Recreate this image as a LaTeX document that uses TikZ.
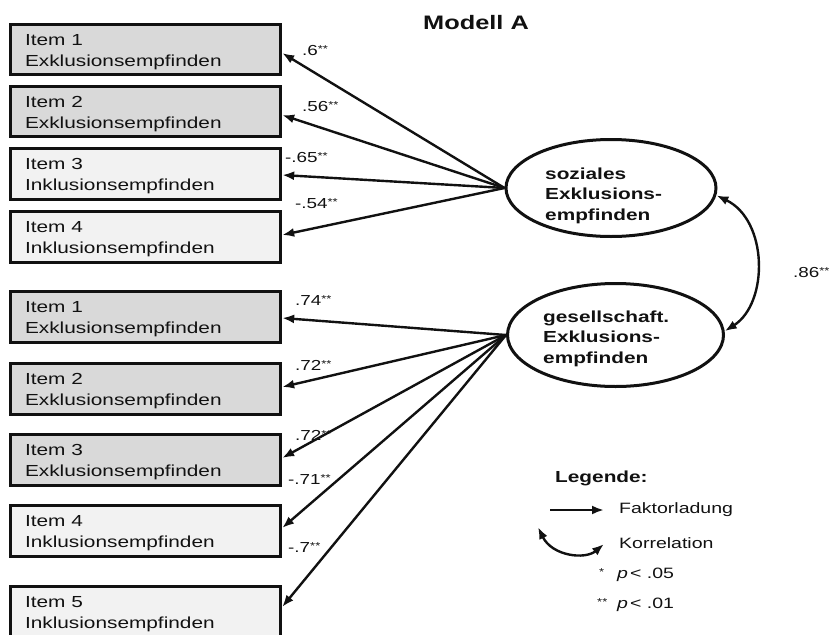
\documentclass[tikz,border=0pt]{standalone}
\usepackage{fontspec}
\setmainfont{Liberation Sans}[FakeStretch=1.3]
\usetikzlibrary{arrows.meta,shapes.geometric}

\definecolor{exkl}{HTML}{D9D9D9}
\definecolor{inkl}{HTML}{F2F2F2}
\definecolor{ink}{HTML}{111111}

% significance stars, set small and raised
\newcommand{\sigstars}[1]{\raisebox{3pt}{\fontsize{10}{10}\selectfont #1}}

\begin{document}
\begin{tikzpicture}[x=1pt,y=-1pt,
  itembox/.style={draw=ink, line width=2.8pt, minimum width=270.5pt, minimum height=50.5pt, inner sep=0pt},
  itemtext/.style={anchor=north west, align=left, inner sep=0pt, font=\fontsize{16}{21}\selectfont, text=ink},
  factor/.style={draw=ink, ellipse, line width=3pt, inner sep=0pt},
  factortext/.style={anchor=north west, align=left, inner sep=0pt, font=\fontsize{16}{20.5}\selectfont\bfseries, text=ink},
  load/.style={draw=ink, line width=2.4pt, -{Latex[length=12pt,width=9pt]}},
  corr/.style={draw=ink, line width=2.4pt, {Latex[length=12pt,width=9pt]}-{Latex[length=12pt,width=9pt]}},
  coef/.style={anchor=base west, inner sep=0pt, font=\fontsize{14.5}{17}\selectfont, text=ink},
  legtext/.style={anchor=base west, inner sep=0pt, font=\fontsize{15}{18}\selectfont, text=ink},
]
\useasboundingbox (0,0) rectangle (834,634);

% title
\node[anchor=base west, inner sep=0pt, font=\fontsize{19.5}{22}\selectfont\bfseries, text=ink] (title) at (423,30) {Modell A};

% indicator boxes, first factor
\node[itembox, fill=exkl] (s1) at (145.5,49.5) {};
\node[itembox, fill=exkl] (s2) at (145.5,111.5) {};
\node[itembox, fill=inkl] (s3) at (145.5,174) {};
\node[itembox, fill=inkl] (s4) at (145.5,237) {};
% indicator boxes, second factor
\node[itembox, fill=exkl] (g1) at (145.5,317) {};
\node[itembox, fill=exkl] (g2) at (145.5,389) {};
\node[itembox, fill=exkl] (g3) at (145.5,460) {};
\node[itembox, fill=inkl] (g4) at (145.5,531) {};
\node[itembox, fill=inkl] (g5) at (145.5,612) {};

\node[itemtext] (ts1) at ([shift={(16,11)}]s1.north west) {Item 1\\Exklusionsempfinden};
\node[itemtext] (ts2) at ([shift={(16,11)}]s2.north west) {Item 2\\Exklusionsempfinden};
\node[itemtext] (ts3) at ([shift={(16,11)}]s3.north west) {Item 3\\Inklusionsempfinden};
\node[itemtext] (ts4) at ([shift={(16,11)}]s4.north west) {Item 4\\Inklusionsempfinden};
\node[itemtext] (tg1) at ([shift={(16,11)}]g1.north west) {Item 1\\Exklusionsempfinden};
\node[itemtext] (tg2) at ([shift={(16,11)}]g2.north west) {Item 2\\Exklusionsempfinden};
\node[itemtext] (tg3) at ([shift={(16,11)}]g3.north west) {Item 3\\Exklusionsempfinden};
\node[itemtext] (tg4) at ([shift={(16,11)}]g4.north west) {Item 4\\Inklusionsempfinden};
\node[itemtext] (tg5) at ([shift={(16,11)}]g5.north west) {Item 5\\Inklusionsempfinden};

% latent factors
\node[factor, minimum width=210pt, minimum height=97pt] (es) at (611,188) {};
\node[factor, minimum width=216pt, minimum height=103pt] (eg) at (615.5,335) {};
\node[factortext] (tes) at (545,167.3) {soziales\\Exklusions-\\empfinden};
\node[factortext] (teg) at (543,310.3) {gesellschaft.\\Exklusions-\\empfinden};

% factor loadings
\draw[load] (es.west) -- ([shift={(0,3.5)}]s1.east);
\draw[load] (es.west) -- ([shift={(0,3.5)}]s2.east);
\draw[load] (es.west) -- ([shift={(0,1)}]s3.east);
\draw[load] (es.west) -- ([shift={(0,-2)}]s4.east);
\draw[load] (eg.west) -- ([shift={(0,1)}]g1.east);
\draw[load] (eg.west) -- ([shift={(0,-2)}]g2.east);
\draw[load] (eg.west) -- ([shift={(0,-2)}]g3.east);
\draw[load] (eg.west) -- ([shift={(0,-3)}]g4.east);
\draw[load] (eg.west) -- ([shift={(0,-5)}]g5.east);

\node[coef] (ls1) at (302,56) {.6\sigstars{**}};
\node[coef] (ls2) at (302,111) {.56\sigstars{**}};
\node[coef] (ls3) at (285,162) {-.65\sigstars{**}};
\node[coef] (ls4) at (295,208) {-.54\sigstars{**}};
\node[coef] (lg1) at (295,305) {.74\sigstars{**}};
\node[coef] (lg2) at (295,370) {.72\sigstars{**}};
\node[coef] (lg3) at (295,440) {.72\sigstars{**}};
\node[coef] (lg4) at (288,484) {-.71\sigstars{**}};
\node[coef] (lg5) at (288,552) {-.7\sigstars{**}};

% factor correlation
\draw[corr] (es.-4) .. controls +(52,25) and +(44,-28) .. (eg.2);
\node[coef] (lcorr) at (793,277) {.86\sigstars{**}};

% legend
\node[anchor=base west, inner sep=0pt, font=\fontsize{16}{18}\selectfont\bfseries, text=ink] (leg) at (555,482) {Legende:};
\coordinate (fa) at (550,510);
\coordinate (fb) at (604,510);
\draw[load] (fa) -- (fb);
\node[legtext] (lfak) at (619,513) {Faktorladung};
\coordinate (ka) at (538,527);
\coordinate (kb) at (604,544);
\draw[corr] (ka) .. controls (552,556) and (585,560) .. (kb);
\node[legtext] (lkor) at (619,548) {Korrelation};
\node[coef] (st1) at (599,578) {\sigstars{*}};
\node[legtext] (p1) at (617,578) {\textit{p}\kern2pt< .05};
\node[coef] (st2) at (597,608) {\sigstars{**}};
\node[legtext] (p2) at (617,608) {\textit{p}\kern2pt< .01};
\end{tikzpicture}
\end{document}
